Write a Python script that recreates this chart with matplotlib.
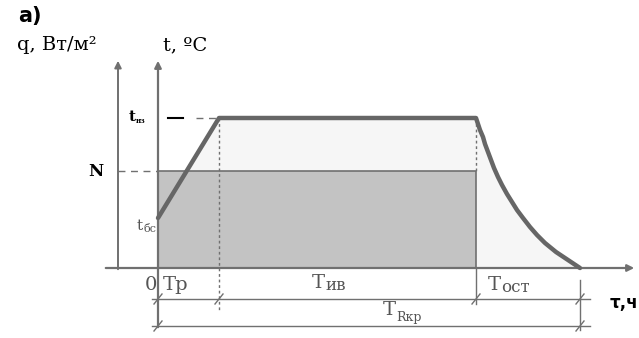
import matplotlib.pyplot as plt

# schematic values (arbitrary units)
t_bc = 50       # start temperature
t_max = 150     # max temperature
N_level = 97    # heat flux level
tau_r = 61      # end of ramp
tau_iv = 318    # end of plateau
tau_end = 422   # end of cooling

cool_tau = [318, 320, 322, 325, 327, 330, 333, 336, 340, 344, 349, 354,
            359, 365, 372, 379, 387, 398, 410, 422]
cool_temp = [150, 144, 138, 131, 124, 116, 108, 100, 91, 83, 74, 66,
             58, 50, 41, 33, 25, 16, 8, 0]

temp_tau = [0, tau_r] + cool_tau
temp_val = [t_bc, t_max] + cool_temp

axis_col = '#707070'
line_col = '#666666'
txt_col = '#555555'
serif = 'DejaVu Serif'


def slash(ax, x, y):
  ax.plot([x - 4, x + 4], [y - 5, y + 5], color=axis_col, lw=1)


def main():
  fig = plt.figure(figsize=(6.39, 3.38), dpi=100)
  ax = fig.add_axes([0, 0, 1, 1])
  ax.set_xlim(-158, 481)
  ax.set_ylim(-70, 268)
  ax.axis('off')

  # light area under temperature curve
  ax.fill_between(temp_tau, 0, temp_val, color='#f6f6f6', lw=0, zorder=1)
  # heat flux rectangle
  ax.fill_between([0, tau_iv], 0, N_level, color='#c3c3c3', lw=0, zorder=2)
  ax.plot([0, tau_iv, tau_iv], [N_level, N_level, 0], color=axis_col, lw=1.2, zorder=3)

  # temperature curve
  ax.plot(temp_tau, temp_val, color=line_col, lw=3.2, solid_capstyle='round',
          solid_joinstyle='round', zorder=5)

  # axes
  ax.annotate('', xy=(479, 0), xytext=(-55, 0),
              arrowprops=dict(arrowstyle='-|>', color=axis_col, lw=1.6, mutation_scale=10), zorder=4)
  ax.annotate('', xy=(0, 210), xytext=(0, -62),
              arrowprops=dict(arrowstyle='-|>', color=axis_col, lw=1.6, mutation_scale=10), zorder=4)
  ax.annotate('', xy=(-40, 210), xytext=(-40, -4),
              arrowprops=dict(arrowstyle='-|>', color=axis_col, lw=1.4, mutation_scale=10), zorder=4)

  # helper lines
  ax.plot([-40, 0], [N_level, N_level], color=axis_col, lw=1, ls=(0, (5, 4)))
  ax.plot([38, tau_r], [t_max, t_max], color=axis_col, lw=1, ls=(0, (5, 4)))
  ax.plot([10, 25], [t_max, t_max], color='black', lw=1.5)
  ax.plot([tau_r, tau_r], [t_max, -42], color=axis_col, lw=1, ls=(0, (2, 2)))
  ax.plot([tau_iv, tau_iv], [t_max, N_level], color=axis_col, lw=1, ls=(0, (2, 2)))
  ax.plot([tau_iv, tau_iv], [0, -36], color=axis_col, lw=1)
  ax.plot([tau_end, tau_end], [-12, -62], color=axis_col, lw=1)

  # dimension lines
  ax.plot([-6, 432], [-31, -31], color=axis_col, lw=1)
  ax.plot([-6, 432], [-58, -58], color=axis_col, lw=1)
  for x in [0, tau_r, tau_iv, tau_end]:
    slash(ax, x, -31)
  for x in [0, tau_end]:
    slash(ax, x, -58)

  # labels
  ax.text(-140, 252, 'а)', fontsize=15, fontweight='bold', family='DejaVu Sans', va='center')
  ax.text(-141, 223, 'q, Вт/м²', fontsize=14, family=serif, va='center')
  ax.text(5, 223, 't, ºC', fontsize=14, family=serif, va='center')
  ax.text(-62, N_level, 'N', fontsize=12, family=serif, fontweight='bold', va='center', ha='center')
  ax.text(-26, t_max + 1, 't', fontsize=11, family=serif, fontweight='bold', va='center', ha='center')
  ax.text(-22, t_max - 3, 'нз', fontsize=5, family=serif, fontweight='bold', va='center')
  ax.text(-18, t_bc - 8, 't', fontsize=11, family=serif, color=txt_col, va='center', ha='center')
  ax.text(-14, t_bc - 11, 'бс', fontsize=8, family=serif, color=txt_col, va='center')
  ax.text(-7, -17, '0', fontsize=14, family=serif, color=txt_col, va='center', ha='center')
  ax.text(5, -17, 'Tр', fontsize=14, family=serif, color=txt_col, va='center')
  ax.text(154, -15, 'T', fontsize=14, family=serif, color=txt_col, va='center')
  ax.text(167, -18, 'ив', fontsize=12, family=serif, color=txt_col, va='center')
  ax.text(330, -17, 'T', fontsize=14, family=serif, color=txt_col, va='center')
  ax.text(343, -20, 'ост', fontsize=12, family=serif, color=txt_col, va='center')
  ax.text(225, -42, 'T', fontsize=14, family=serif, color=txt_col, va='center')
  ax.text(238, -50, 'Rкр', fontsize=9, family=serif, color=txt_col, va='center')
  ax.text(452, -35, 'τ,ч', fontsize=12, fontweight='bold', family='DejaVu Sans', va='center')

  fig.savefig('out.png', dpi=100)


if __name__ == "__main__":
  main()
